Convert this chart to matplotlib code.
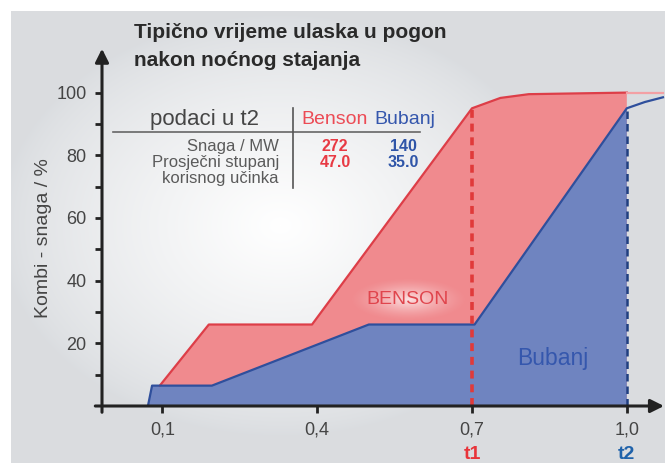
import numpy as np
import matplotlib
matplotlib.use("Agg")
import matplotlib.pyplot as plt
import matplotlib.patheffects as pe

plt.rcParams["font.family"] = ["Liberation Sans", "DejaVu Sans"]

# Data
benson_x = [0.095, 0.19, 0.39, 0.70, 0.755, 0.81, 1.0, 1.07]
benson_y = [6.5, 26, 26, 95, 98.3, 99.5, 100, 100]
bubanj_x = [0.072, 0.08, 0.196, 0.50, 0.705, 1.0, 1.035, 1.07]
bubanj_y = [0, 6.5, 6.5, 26, 26, 95, 97, 98.5]

xticks = [0.1, 0.4, 0.7, 1.0]
xtick_labels = ["0,1", "0,4", "0,7", "1,0"]
yticks = [20, 40, 60, 80, 100]
yticks_minor = [10, 30, 50, 70, 90]
t1, t2 = 0.7, 1.0

table_rows = ["Snaga / MW", "Prosječni stupanj"]
benson_vals = ["272", "47.0"]
bubanj_vals = ["140", "35.0"]

RED_FILL = "#f08a8e"
RED_LINE = "#dd3e48"
BLUE_FILL = "#6f84c0"
BLUE_LINE = "#2f4f9c"
DARK = "#222222"
GREY = "#454545"

W, H = 665, 469
fig = plt.figure(figsize=(W / 100, H / 100), dpi=100)

# background panel with a soft white glow
bg = fig.add_axes([0, 0, 1, 1], zorder=-10)
yy, xx = np.mgrid[0:H, 0:W]
d = np.sqrt(((xx - 280) / 280.0) ** 2 + ((yy - 225) / 210.0) ** 2)
glow = np.clip(1 - d, 0, 1) ** 0.75
# extra soft glow behind the BENSON label
d2 = np.sqrt(((xx - 408) / 60.0) ** 2 + ((yy - 299) / 22.0) ** 2)
glow2 = np.clip(1 - d2, 0, 1) ** 1.5
base = np.array([0.855, 0.865, 0.878])
img = base + (1 - base) * glow[..., None]
outside = (xx < 11) | (yy < 11) | (yy > 462)
img[outside] = 1.0
bg.imshow(img, extent=(0, W, H, 0), aspect="auto")
bg.axis("off")


def fx(px):
    return px / W


def fy(py):
    return 1 - py / H


ax = fig.add_axes([fx(102), 63 / H, (W - 102) / W, 351 / H])
ax.patch.set_alpha(0)
ax.set_xlim(-0.017, 1.074)
ax.set_ylim(0, 112)
for s in ax.spines.values():
    s.set_visible(False)

# filled areas up to t2
bx = [x for x in benson_x if x <= t2]
by = benson_y[:len(bx)]
ax.fill(bx + [bx[-1], bx[0]], by + [0, 0], color=RED_FILL, zorder=1, lw=0)
ux = [x for x in bubanj_x if x <= t2]
uy = bubanj_y[:len(ux)]
ax.fill(ux + [ux[-1], ux[0]], uy + [0, 0], color=BLUE_FILL, zorder=2, lw=0)

# white glow over the red area, drawn as a translucent overlay
ov = fig.add_axes([0, 0, 1, 1], zorder=5)
rgba = np.ones((H, W, 4))
rgba[..., 3] = 0.75 * glow2
ov.imshow(rgba, extent=(0, W, H, 0), aspect="auto")
ov.axis("off")

# outlines
ax.plot(bx, by, color=RED_LINE, lw=1.6, zorder=3)
ax.plot(benson_x[len(bx) - 1:], benson_y[len(bx) - 1:], color="#f3a0a4", lw=1.6, zorder=3)
ax.plot(bubanj_x, bubanj_y, color=BLUE_LINE, lw=1.6, zorder=4)

# t1 / t2 markers
i1 = benson_x.index(t1)
ax.plot([t1, t1], [0, benson_y[i1]], color="#e03a3a", lw=2.6, ls=(0, (2.2, 1.6)), zorder=5)
i2 = bubanj_x.index(t2)
ax.plot([t2, t2], [0, bubanj_y[i2]], color="#1f3f80", lw=1.8, ls=(0, (3, 2)), zorder=5)

# axes with arrows
ax.annotate("", xy=(1.072, 0), xytext=(-0.03, 0), annotation_clip=False,
            arrowprops=dict(arrowstyle="-|>", lw=2.2, color=DARK, mutation_scale=20,
                            shrinkA=0, shrinkB=0), zorder=6)
ax.annotate("", xy=(-0.017, 114), xytext=(-0.017, -2), annotation_clip=False,
            arrowprops=dict(arrowstyle="-|>", lw=2.2, color=DARK, mutation_scale=20,
                            shrinkA=0, shrinkB=0), zorder=6)

ax.set_xticks(xticks)
ax.set_xticklabels(xtick_labels)
ax.set_yticks(yticks)
ax.set_yticks(yticks_minor, minor=True)
ax.tick_params(axis="both", which="both", direction="out", length=5, width=2,
               color=DARK, labelsize=13, labelcolor=GREY, pad=6)

ax.text(t1, -15.6, "t1", color="#e8343a", fontsize=14, fontweight="bold",
        ha="center", va="center", clip_on=False)
ax.text(t2, -15.6, "t2", color="#1f62aa", fontsize=14, fontweight="bold",
        ha="center", va="center", clip_on=False)

fig.text(fx(44), fy(238), "Kombi - snaga / %", rotation=90, ha="center", va="center",
         fontsize=14, color=GREY)

# title
fig.text(fx(134), fy(38), "Tipično vrijeme ulaska u pogon", fontsize=15,
         fontweight="bold", color="#2a2a2a", va="baseline")
fig.text(fx(134), fy(66), "nakon noćnog stajanja", fontsize=15,
         fontweight="bold", color="#2a2a2a", va="baseline")

# inline labels
fig.text(fx(408), fy(299), "BENSON", fontsize=14, color="#e0454d", ha="center",
         va="center", zorder=6)
fig.text(fx(553), fy(358), "Bubanj", fontsize=16.5, color="#3557ad", ha="center",
         va="center")

# small table
fig.text(fx(204), fy(120), "podaci u t2", fontsize=16, color=GREY, ha="center", va="center")
fig.text(fx(335), fy(120), "Benson", fontsize=14, color="#ec4b55", ha="center", va="center")
fig.text(fx(405), fy(120), "Bubanj", fontsize=14, color="#3557ad", ha="center", va="center")
fig.add_artist(plt.Line2D([fx(113), fx(420)], [fy(132), fy(132)], color="#666666", lw=1.2))
fig.add_artist(plt.Line2D([fx(293), fx(293)], [fy(108), fy(188)], color="#555555", lw=1.2))
row_y = [146, 162]
for lab, bv, uv, yp in zip(table_rows, benson_vals, bubanj_vals, row_y):
    fig.text(fx(279), fy(yp), lab, fontsize=12, color="#5a5a5a", ha="right", va="center")
    fig.text(fx(335), fy(yp), bv, fontsize=11.5, color="#e83a44", ha="center", va="center",
             fontweight="bold")
    fig.text(fx(403), fy(yp), uv, fontsize=11.5, color="#2f55a8", ha="center", va="center",
             fontweight="bold")
fig.text(fx(279), fy(179), "korisnog učinka", fontsize=12, color="#5a5a5a", ha="right",
         va="center")

fig.savefig("out.png", dpi=100)
